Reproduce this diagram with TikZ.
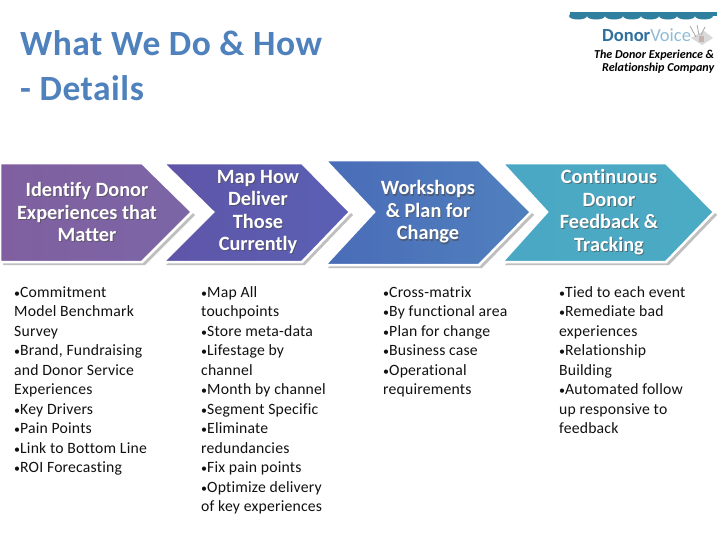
\documentclass[tikz,border=0pt]{standalone}
\usepackage{fontspec}
\setmainfont[Ligatures=NoCommon]{Carlito}
\definecolor{titleblue}{HTML}{4F81BD}
\definecolor{bandblue}{HTML}{2F7F9F}
\definecolor{donorblue}{HTML}{2F6F9F}
\definecolor{voiceblue}{HTML}{8FBBD6}
\definecolor{bodyblack}{HTML}{111111}
\newcommand{\kbul}{{\fontsize{12}{12}\selectfont•}}
\tikzset{
  x=1pt,y=-1pt,
  titletext/.style={anchor=west,inner sep=0pt,text=titleblue,font=\fontsize{35.5}{35.5}\selectfont\bfseries\addfontfeature{LetterSpace=1.5}},
  bodytext/.style={anchor=north west,inner sep=0pt,align=left,text=bodyblack,font=\fontsize{15.7}{19.5}\selectfont\addfontfeature{LetterSpace=1.3}},
  steptext/.style={inner sep=0pt,align=center,text=white,font=\fontsize{20.3}{22.5}\selectfont\bfseries},
  stepshade/.style={inner sep=0pt,align=center,text=black!70,opacity=0.6,font=\fontsize{20.3}{22.5}\selectfont\bfseries},
  tagtext/.style={anchor=east,inner sep=0pt,align=right,font=\fontsize{12.1}{13}\selectfont\bfseries\itshape},
}
\begin{document}
\begin{tikzpicture}
\useasboundingbox(0,0)rectangle(728,546);
\fill[white](0,0)rectangle(728,546);
% title
\node[titletext](title1)at(20,43.5){What We Do \& How};
\node[titletext](title2)at(20,88.5){- Details};
% logo
\fill[bandblue](570,12)rectangle(717,16);
\foreach \kx in {578,596,614,632,650,668,686,704}{\fill[bandblue](\kx,16)ellipse[x radius=9,y radius=3.5];}
\node[inner sep=0pt,anchor=west](logotext)at(602,35){\fontsize{18.5}{18.5}\selectfont\textcolor{donorblue}{\bfseries Donor}\textcolor{voiceblue}{Voice}};
\fill[black!15](691,38)--(704,31)--(713,38)--(702,45)--cycle;
\draw[black!35,line width=0.8pt](696,37)--(690,26)(699,35)--(697,25)(701,35)--(705,27);
\fill[red!25!black!30](699,36)rectangle(704,42);
\node[tagtext](tag)at(714.5,61.5){The Donor Experience \&\\Relationship Company};
% chevrons
\foreach \kl/\kn/\kf/\kt/\kc/\ktop/\kbot/\cola/\colb in
  {0/0/142/192/212/163/262/7F5F9F/7C66A6,163/213/302/350/212/163/262/5F55A8/5A60B4,502/547/666/714/212/163/262/4BA8C4/4BAAC4,325/374/479/531/212/160/265/4A6CB8/5080BE}{
  \definecolor{cola}{HTML}{\cola}\definecolor{colb}{HTML}{\colb}
  \fill[black!25](\kl+3,\ktop+3)--(\kf+3,\ktop+3)--(\kt+3,\kc+3)--(\kf+3,\kbot+3)--(\kl+3,\kbot+3)--(\kn+3,\kc+3)--cycle;
  \draw[white,line width=2.5pt,left color=cola,right color=colb,line join=miter]
    (\kl,\ktop)--(\kf,\ktop)--(\kt,\kc)--(\kf,\kbot)--(\kl,\kbot)--(\kn,\kc)--cycle;
}
% chevron labels
\foreach \kname/\kx/\ky/\ktxt in {
  a/87/212/{Identify Donor\\Experiences that\\Matter},
  b/258/212/{Map How\\Deliver\\Those\\Currently},
  c/428/212/{Workshops\\\& Plan for\\Change},
  d/609/212/{Continuous\\Donor\\Feedback \&\\Tracking}}{
  \node[stepshade](\kname s)at(\kx+1,\ky+1.2){\ktxt};
  \node[steptext](\kname)at(\kx,\ky){\ktxt};
}
% columns
\node[bodytext](col1)at(14,286.3){\kbul Commitment\\Model Benchmark\\Survey\\\kbul Brand, Fundraising\\and Donor Service\\Experiences\\\kbul Key Drivers\\\kbul Pain Points\\\kbul Link to Bottom Line\\\kbul ROI Forecasting};
\node[bodytext](col2)at(201,286.3){\kbul Map All\\touchpoints\\\kbul Store meta-data\\\kbul Lifestage by\\channel\\\kbul Month by channel\\\kbul Segment Specific\\\kbul Eliminate\\redundancies\\\kbul Fix pain points\\\kbul Optimize delivery\\of key experiences};
\node[bodytext](col3)at(383,286.3){\kbul Cross-matrix\\\kbul By functional area\\\kbul Plan for change\\\kbul Business case\\\kbul Operational\\requirements};
\node[bodytext](col4)at(559,286.3){\kbul Tied to each event\\\kbul Remediate bad\\experiences\\\kbul Relationship\\Building\\\kbul Automated follow\\up responsive to\\feedback};
\end{tikzpicture}
\end{document}
